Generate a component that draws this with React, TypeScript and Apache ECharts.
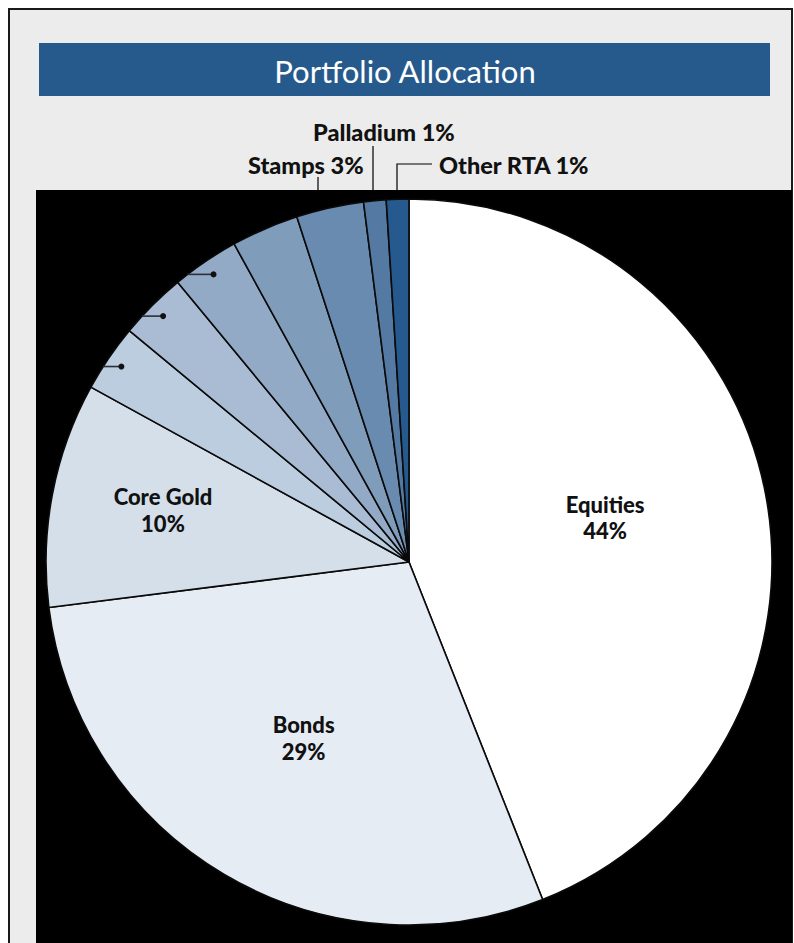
import React, { useEffect, useRef } from "react";
import * as echarts from "echarts";

// ---- data ----
const categories = [
  "Equities",
  "Bonds",
  "Core Gold",
  "Gold Miners",
  "Platinum",
  "Silver",
  "Fine Art",
  "Stamps",
  "Palladium",
  "Other RTA",
];
const values = [44, 29, 10, 3, 3, 3, 3, 3, 1, 1];
const sliceColors = [
  "#ffffff",
  "#e6ecf4",
  "#d5dfea",
  "#bccde0",
  "#a9bcd3",
  "#93aac7",
  "#7f9cbb",
  "#6a8bb0",
  "#5479a3",
  "#265a8e",
];
const titleText = "Portfolio Allocation";

// ---- layout constants ----
const W = 794;
const H = 943;
const CX = 409;
const CY = 562;
const R = 363;
const FONT = "Lato, 'Open Sans', sans-serif";
const TEXT_COLOR = "#111111";
const LABEL_SIZE = 23.5;
const INSIDE_SIZE = 22;

const total = values.reduce((a, b) => a + b, 0);
function midAngle(i: number) {
  let before = 0;
  for (let k = 0; k < i; k++) before += values[k];
  return ((before + values[i] / 2) / total) * Math.PI * 2;
}
function polar(i: number, r: number): [number, number] {
  const a = midAngle(i);
  return [CX + r * Math.sin(a), CY - r * Math.cos(a)];
}

// label layout per slice (positions only)
const insideLabelPos: Record<number, { frac: number; dy: number }> = {
  0: { frac: 0.55, dy: -7 },
  1: { frac: 0.57, dy: -2 },
  2: { frac: 0.69, dy: -5 },
};
const outsideLabels: Record<number, { x: number; y: number; line: (e: [number, number]) => number[][] }> = {
  7: { x: 248, y: 165, line: (e) => [e, [318, e[1] - 12], [318, 177]] },
  8: { x: 313, y: 132, line: (e) => [e, [373, e[1] - 6], [373, 146]] },
  9: { x: 439, y: 165, line: (e) => [e, [397, e[1] - 4], [397, 164], [432, 164]] },
};
const dotSlices = [3, 4, 5];

export default function App() {
  const ref = useRef<HTMLDivElement>(null);

  useEffect(() => {
    if (!ref.current) return;
    const chart = echarts.init(ref.current, null, { renderer: "svg" });

    const baseLabel = {
      fontFamily: FONT,
      fontWeight: 900,
      fontSize: LABEL_SIZE,
      color: TEXT_COLOR,
    };

    const data = categories.map((name, i) => {
      const item: any = {
        name,
        value: values[i],
        itemStyle: { color: sliceColors[i] },
      };
      if (i <= 2) {
        item.label = {
          ...baseLabel,
          fontSize: INSIDE_SIZE,
          show: true,
          position: "inside",
          formatter: `${name}\n${values[i]}%`,
          lineHeight: 26.5,
          align: "center",
        };
        item.labelLine = { show: false };
      } else if (outsideLabels[i]) {
        item.label = {
          ...baseLabel,
          show: true,
          position: "outside",
          formatter: `${name} ${values[i]}%`,
        };
        item.labelLine = { show: true, lineStyle: { color: "#000000", width: 1.2 } };
      } else if (i === 4) {
        item.label = {
          ...baseLabel,
          show: true,
          position: "outside",
          formatter: `${name} ${values[i]}%`,
          width: 15,
          overflow: "truncate",
          ellipsis: "",
        };
        item.labelLine = { show: false };
      } else {
        item.label = { show: false };
        item.labelLine = { show: false };
      }
      return item;
    });

    const graphics: any[] = [
      {
        type: "rect",
        shape: { x: 9, y: 9, width: 783, height: H + 20 },
        style: { fill: "#ebeceb", stroke: "#1a1a1a", lineWidth: 2 },
        z: 0,
      },
      {
        type: "rect",
        shape: { x: 39, y: 43, width: 731, height: 53 },
        style: { fill: "#275a8c" },
        z: 1,
      },
      {
        type: "text",
        x: 405,
        y: 71,
        style: {
          text: titleText,
          fill: "#ffffff",
          fontFamily: FONT,
          fontSize: 31,
          fontWeight: "normal",
          textAlign: "center",
          textVerticalAlign: "middle",
        },
        z: 2,
      },
      {
        type: "rect",
        shape: { x: 36, y: 190, width: 756, height: H },
        style: { fill: "#000000" },
        z: 1,
      },
    ];
    dotSlices.forEach((i) => {
      const [dx, dy] = polar(i, R * 0.958);
      // horizontal stub from the dot to the pie edge
      const edgeX = CX - Math.sqrt(Math.max(0, R * R - (dy - CY) * (dy - CY)));
      graphics.push({
        type: "line",
        shape: { x1: dx, y1: dy, x2: edgeX, y2: dy },
        style: { stroke: "#2a2f38", lineWidth: 1.6 },
        z: 100,
      });
      graphics.push({
        type: "circle",
        shape: { cx: dx, cy: dy, r: 3 },
        style: { fill: "#111111" },
        z: 101,
      });
    });

    chart.setOption({
      animation: false,
      backgroundColor: "transparent",
      graphic: { elements: graphics },
      series: [
        {
          type: "pie",
          z: 5,
          center: [CX, CY],
          radius: [0, R],
          startAngle: 90,
          clockwise: true,
          avoidLabelOverlap: false,
          itemStyle: { borderColor: "#0a0a0a", borderWidth: 1.6 },
          emphasis: { disabled: true },
          data,
          labelLayout: (params: any) => {
            const i = params.dataIndex;
            if (i <= 2) {
              const p = insideLabelPos[i];
              const [x, y] = polar(i, R * p.frac);
              return { x, y: y + p.dy, align: "center", verticalAlign: "middle" };
            }
            if (outsideLabels[i]) {
              const o = outsideLabels[i];
              const e = polar(i, R);
              return {
                x: o.x,
                y: o.y,
                align: "left",
                verticalAlign: "middle",
                labelLinePoints: o.line(e),
              };
            }
            if (i === 4) {
              return { x: 21, y: 338, align: "left", verticalAlign: "middle" };
            }
            return {};
          },
        },
      ],
    });

    return () => chart.dispose();
  }, []);

  return (
    <div
      ref={ref}
      style={{ position: "absolute", left: 0, top: 0, width: W, height: H }}
    />
  );
}
